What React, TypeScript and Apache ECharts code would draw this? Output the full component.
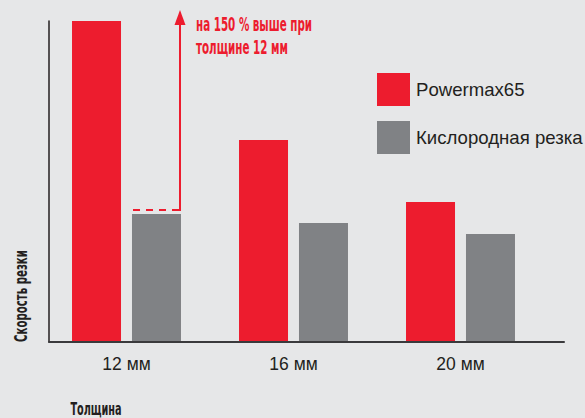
import React, { useEffect, useRef } from "react";
import * as echarts from "echarts";

const categories = ["12 мм", "16 мм", "20 мм"];
const seriesNames = ["Powermax65", "Кислородная резка"];
const powermaxValues = [320, 201, 139];
const oxyfuelValues = [127, 118, 107];
const yAxisTitle = "Скорость резки";
const xAxisTitle = "Толщина";
const noteLines = ["на 150 % выше при", "толщине 12 мм"];

const RED = "#ed1c2e";
const GRAY = "#808285";
const BG = "#e6e7e8";
const INK = "#231f20";
const NARROW = '"Liberation Sans Narrow", "DejaVu Sans Condensed", "Liberation Sans", sans-serif';
const SANS = '"Liberation Sans", Arial, Helvetica, sans-serif';

export default function App() {
  const ref = useRef<HTMLDivElement>(null);
  useEffect(() => {
    if (!ref.current) return;
    const chart = echarts.init(ref.current, null, { renderer: "svg" });
    chart.setOption({
      animation: false,
      backgroundColor: BG,
      grid: [
        { left: 43, right: 41, top: 21, bottom: 77 },
        { left: 49, right: 21, top: 21, bottom: 76 },
      ],
      legend: {
        orient: "vertical",
        left: 377,
        top: 73,
        padding: 0,
        itemWidth: 33,
        itemHeight: 33,
        itemGap: 15,
        icon: "rect",
        data: seriesNames,
        textStyle: { fontSize: 18.6, color: INK, fontFamily: SANS, padding: [0, 0, 0, 1] },
      },
      xAxis: [
        {
          type: "category",
          gridIndex: 0,
          data: categories,
          axisLine: { show: false },
          axisTick: { show: false },
          axisLabel: { fontSize: 17.5, color: INK, fontFamily: SANS, margin: 14 },
        },
        {
          type: "value",
          gridIndex: 1,
          min: 0,
          max: 1,
          axisLine: { show: true, onZero: false, lineStyle: { color: "#3a3a3c", width: 2 } },
          axisTick: { show: false },
          axisLabel: { show: false },
          splitLine: { show: false },
        },
      ],
      yAxis: [
        {
          type: "value",
          gridIndex: 0,
          min: 0,
          max: 320,
          axisLine: { show: false },
          axisTick: { show: false },
          axisLabel: { show: false },
          splitLine: { show: false },
        },
        {
          type: "value",
          gridIndex: 1,
          min: 0,
          max: 1,
          axisLine: { show: true, onZero: false, lineStyle: { color: INK, width: 1.5 } },
          axisTick: { show: false },
          axisLabel: { show: false },
          splitLine: { show: false },
        },
      ],
      series: [
        {
          name: seriesNames[0],
          type: "bar",
          xAxisIndex: 0,
          yAxisIndex: 0,
          data: powermaxValues,
          barWidth: 49,
          barGap: "22.4%",
          itemStyle: { color: RED },
        },
        {
          name: seriesNames[1],
          type: "bar",
          xAxisIndex: 0,
          yAxisIndex: 0,
          data: oxyfuelValues,
          barWidth: 49,
          itemStyle: { color: GRAY },
        },
      ],
      graphic: [
        {
          type: "text",
          x: 21,
          y: 296,
          rotation: Math.PI / 2,
          scaleX: 0.63,
          style: {
            text: yAxisTitle,
            fontSize: 18,
            fontWeight: "bold",
            fontFamily: NARROW,
            fill: INK,
            align: "center",
            verticalAlign: "middle",
          },
        },
        {
          type: "text",
          x: 96,
          y: 408,
          scaleX: 0.6,
          style: {
            text: xAxisTitle,
            fontSize: 18,
            fontWeight: "bold",
            fontFamily: NARROW,
            fill: INK,
            align: "center",
            verticalAlign: "middle",
          },
        },
        {
          type: "line",
          shape: { x1: 133, y1: 210, x2: 181, y2: 210 },
          style: { stroke: RED, lineWidth: 2, lineDash: [7, 6] },
        },
        {
          type: "line",
          shape: { x1: 180, y1: 211, x2: 180, y2: 22 },
          style: { stroke: RED, lineWidth: 2 },
        },
        {
          type: "polygon",
          shape: { points: [[180, 10], [174.5, 25], [185.5, 25]] },
          style: { fill: RED },
        },
        {
          type: "text",
          x: 196,
          y: 24,
          scaleX: 0.575,
          style: {
            text: noteLines[0],
            fontSize: 20,
            fontWeight: "bold",
            fontFamily: NARROW,
            fill: RED,
            align: "left",
            verticalAlign: "middle",
          },
        },
        {
          type: "text",
          x: 196,
          y: 47,
          scaleX: 0.575,
          style: {
            text: noteLines[1],
            fontSize: 20,
            fontWeight: "bold",
            fontFamily: NARROW,
            fill: RED,
            align: "left",
            verticalAlign: "middle",
          },
        },
      ],
    });
    return () => chart.dispose();
  }, []);
  return (
    <div
      ref={ref}
      style={{ position: "fixed", left: 0, top: 0, width: 585, height: 418, background: BG }}
    />
  );
}
